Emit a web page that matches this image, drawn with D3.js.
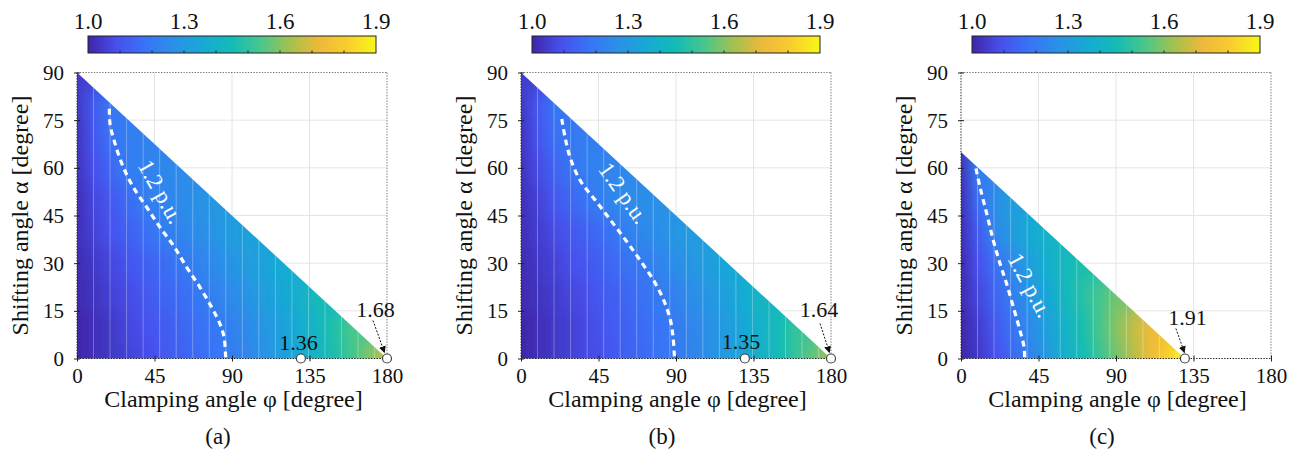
<!DOCTYPE html>
<html>
<head>
<meta charset="utf-8">
<script src="https://cdn.jsdelivr.net/npm/d3@7"></script>
<style>
  body { margin: 0; background: #fff; }
  svg, svg text { font-family: "Liberation Serif", "Times New Roman", serif; }
</style>
</head>
<body>
<svg id="chart" width="1299" height="453"></svg>
<script>
// colour bar
var cbTicks = [1.0, 1.3, 1.6, 1.9];
var cbMinor = [1.1, 1.2, 1.3, 1.4, 1.5, 1.6, 1.7, 1.8];
var parulaColors = ['#3e26a8', '#4750ee', '#3874f6', '#2a91e6', '#16aad4', '#12bcb6',
                    '#48c78b', '#a3c14f', '#ecb93a', '#f9cd2e', '#f6f815'];

// axes
var xTicks = [0, 45, 90, 135, 180];
var yTicks = [0, 15, 30, 45, 60, 75, 90];

// sampled peak-voltage field, rows of alpha, columns of phi (10 deg steps)
var phiCols = [0, 10, 20, 30, 40, 50, 60, 70, 80, 90, 100, 110, 120, 130, 140, 150, 160, 170, 180];
var alphaRows = [0, 10, 20, 30, 40, 50, 60, 70, 80, 90];
var alphaRowsC = [0, 10, 20, 30, 40, 50, 60];

var gridA = [
  [1.00, 1.02, 1.04, 1.06, 1.08, 1.11, 1.13, 1.16, 1.18, 1.21, 1.24, 1.28, 1.32, 1.36, 1.41, 1.47, 1.53, 1.60, 1.68],
  [1.00, 1.02, 1.04, 1.07, 1.09, 1.12, 1.14, 1.17, 1.19, 1.22, 1.25, 1.29, 1.33, 1.37, 1.42, 1.48, 1.54],
  [1.01, 1.03, 1.06, 1.08, 1.11, 1.14, 1.16, 1.19, 1.22, 1.25, 1.28, 1.32, 1.35, 1.39, 1.44],
  [1.01, 1.04, 1.07, 1.10, 1.13, 1.16, 1.19, 1.22, 1.25, 1.28, 1.31, 1.34, 1.37],
  [1.02, 1.06, 1.10, 1.13, 1.17, 1.21, 1.23, 1.26, 1.28, 1.31, 1.33],
  [1.02, 1.07, 1.11, 1.16, 1.21, 1.23, 1.25, 1.27, 1.29],
  [1.03, 1.09, 1.15, 1.21, 1.22, 1.24, 1.25],
  [1.03, 1.11, 1.18, 1.21, 1.22],
  [1.04, 1.12, 1.20],
  [1.05]
];
var gridB = [
  [1.00, 1.02, 1.04, 1.06, 1.08, 1.10, 1.13, 1.15, 1.18, 1.20, 1.23, 1.27, 1.31, 1.35, 1.40, 1.45, 1.51, 1.57, 1.64],
  [1.00, 1.02, 1.04, 1.06, 1.08, 1.11, 1.13, 1.16, 1.18, 1.20, 1.24, 1.27, 1.31, 1.35, 1.40, 1.45, 1.51],
  [1.01, 1.03, 1.05, 1.07, 1.09, 1.12, 1.14, 1.17, 1.20, 1.22, 1.26, 1.29, 1.33, 1.37, 1.42],
  [1.01, 1.04, 1.06, 1.09, 1.11, 1.14, 1.17, 1.20, 1.23, 1.26, 1.29, 1.32, 1.35],
  [1.02, 1.05, 1.08, 1.11, 1.14, 1.17, 1.21, 1.24, 1.26, 1.29, 1.31],
  [1.02, 1.06, 1.11, 1.15, 1.19, 1.23, 1.25, 1.26, 1.27],
  [1.03, 1.08, 1.14, 1.19, 1.22, 1.23, 1.24],
  [1.03, 1.10, 1.17, 1.20, 1.21],
  [1.04, 1.11, 1.19],
  [1.05]
];
var gridC = [
  [1.00, 1.04, 1.09, 1.15, 1.22, 1.30, 1.38, 1.45, 1.51, 1.58, 1.65, 1.73, 1.82, 1.91],
  [1.00, 1.05, 1.11, 1.18, 1.25, 1.32, 1.40, 1.46, 1.53, 1.60, 1.67, 1.73],
  [1.01, 1.07, 1.14, 1.21, 1.28, 1.35, 1.42, 1.48, 1.53, 1.58],
  [1.01, 1.09, 1.17, 1.25, 1.32, 1.38, 1.43, 1.47],
  [1.02, 1.12, 1.24, 1.31, 1.36, 1.40],
  [1.02, 1.17, 1.26, 1.32],
  [1.03, 1.22]
];

// feasible region corners [phi, alpha]
var limitA = [[0, 0], [0, 90], [180, 0]];
var limitC = [[0, 0], [0, 65], [130, 0]];

// 1.2 p.u. contour [phi, alpha]
var contourA = [[18.8, 78.6], [19.2, 73.8], [22.1, 67.6], [26.9, 60.2], [32.7, 53.9], [40.5, 47.6], [48.2, 41.3],
                [55.9, 35.6], [63.7, 28.7], [71.4, 22.4], [78.2, 16.1], [83.0, 10.9], [85.4, 6.7], [86.3, 0.4]];
var contourB = [[23.7, 75.4], [25.6, 69.6], [28.5, 63.3], [34.4, 56.0], [43.3, 49.7], [52.2, 43.4], [61.0, 37.1],
                [69.3, 30.8], [77.1, 24.5], [82.9, 18.3], [86.8, 12.0], [88.3, 6.7], [89.1, 0.4]];
var contourC = [[8.7, 59.8], [11.0, 54.0], [14.9, 45.7], [18.7, 37.3], [22.6, 30.0], [26.4, 23.7], [30.3, 16.4],
                [34.1, 9.1], [36.5, 3.9], [37.0, 0.2]];

// marked points
var pointsA = [{phi: 130, alpha: 0, label: '1.36'}, {phi: 180, alpha: 0, label: '1.68'}];
var pointsB = [{phi: 130, alpha: 0, label: '1.35'}, {phi: 180, alpha: 0, label: '1.64'}];
var pointsC = [{phi: 130, alpha: 0, label: '1.91'}];

var panels = [
  {id: 'a', left: 77, grid: gridA, rows: alphaRows, phiMax: 180, limit: limitA, contour: contourA, points: pointsA,
   cLabel: [48.5, 52.5, 61], notes: [{dx: -2.5, dy: -8.5}, {dx: -11.5, dy: -41.5, arrow: [-14, -38, -2.5, -6]}]},
  {id: 'b', left: 521, grid: gridB, rows: alphaRows, phiMax: 180, limit: limitA, contour: contourB, points: pointsB,
   cLabel: [59.5, 52, 55], notes: [{dx: -4, dy: -9.5}, {dx: -12, dy: -42, arrow: [-11, -35, -1.5, -6]}]},
  {id: 'c', left: 961, grid: gridC, rows: alphaRowsC, phiMax: 130, limit: limitC, contour: contourC, points: pointsC,
   cLabel: [40, 23, 62], notes: [{dx: 2.5, dy: -34, arrow: [-9, -30, -0.5, -6]}]}
];

var svg = d3.select('#chart');
var defs = svg.append('defs');
var plotTop = 72.5, plotBottom = 358.5, plotWidth = 310;

var color = d3.scaleLinear()
  .domain(parulaColors.map(function(c, i) { return 1.0 + 0.9 * i / (parulaColors.length - 1); }))
  .range(parulaColors)
  .clamp(true);

defs.append('filter').attr('id', 'soft')
  .attr('x', '-5%').attr('y', '-10%').attr('width', '110%').attr('height', '120%')
  .append('feGaussianBlur').attr('stdDeviation', '1.5 9');

defs.append('marker').attr('id', 'arrowHead')
  .attr('viewBox', '0 0 10 10').attr('refX', 9).attr('refY', 5)
  .attr('markerWidth', 7).attr('markerHeight', 7).attr('markerUnits', 'userSpaceOnUse')
  .attr('orient', 'auto')
  .append('path').attr('d', 'M0,0L10,5L0,10Z').attr('fill', '#111');

var cbGrad = defs.append('linearGradient').attr('id', 'cbGrad');
parulaColors.forEach(function(c, i) {
  cbGrad.append('stop').attr('offset', i / (parulaColors.length - 1)).attr('stop-color', c);
});

panels.forEach(drawPanel);

function drawPanel(p) {
  var x = d3.scaleLinear().domain([0, 180]).range([p.left, p.left + plotWidth]);
  var y = d3.scaleLinear().domain([0, 90]).range([plotBottom, plotTop]);
  var g = svg.append('g');

  // grid
  g.append('g').selectAll('line').data(xTicks.slice(1, -1)).join('line')
    .attr('x1', function(d) { return x(d); }).attr('x2', function(d) { return x(d); })
    .attr('y1', plotTop).attr('y2', plotBottom)
    .attr('stroke', '#e4e4e4').attr('stroke-width', 1);
  g.append('g').selectAll('line').data(yTicks.slice(1, -1)).join('line')
    .attr('y1', function(d) { return y(d); }).attr('y2', function(d) { return y(d); })
    .attr('x1', x(0)).attr('x2', x(180))
    .attr('stroke', '#e4e4e4').attr('stroke-width', 1);

  // heat map
  defs.append('clipPath').attr('id', 'clip' + p.id)
    .append('polygon')
    .attr('points', p.limit.map(function(d) { return x(d[0]) + ',' + y(d[1]); }).join(' '));

  p.rows.forEach(function(a, i) {
    var grad = defs.append('linearGradient').attr('id', 'row' + p.id + i)
      .attr('gradientUnits', 'userSpaceOnUse')
      .attr('x1', x(0)).attr('x2', x(p.phiMax)).attr('y1', 0).attr('y2', 0);
    p.grid[i].forEach(function(v, j) {
      grad.append('stop').attr('offset', phiCols[j] / p.phiMax).attr('stop-color', color(v));
    });
  });

  var last = p.rows.length - 1;
  function bandTop(i) { return i === last ? p.rows[i] + 15 : (p.rows[i] + p.rows[i + 1]) / 2; }
  function bandBottom(i) { return i === 0 ? p.rows[i] - 15 : (p.rows[i] + p.rows[i - 1]) / 2; }

  var heat = g.append('g').attr('clip-path', 'url(#clip' + p.id + ')');
  heat.append('g').attr('filter', 'url(#soft)')
    .selectAll('rect').data(p.rows).join('rect')
    .attr('x', x(-10)).attr('width', x(p.phiMax + 10) - x(-10))
    .attr('y', function(d, i) { return y(bandTop(i)) - 0.5; })
    .attr('height', function(d, i) { return y(bandBottom(i)) - y(bandTop(i)) + 1; })
    .attr('fill', function(d, i) { return 'url(#row' + p.id + i + ')'; });

  heat.append('g').selectAll('line').data(d3.range(9.6, p.phiMax, 9.6)).join('line')
    .attr('x1', function(d) { return x(d); }).attr('x2', function(d) { return x(d); })
    .attr('y1', plotTop).attr('y2', plotBottom)
    .attr('stroke', '#fff').attr('stroke-opacity', 0.3).attr('stroke-width', 1);

  // box
  var dotted = '1.4 1.4';
  g.append('line').attr('x1', x(0)).attr('x2', x(180)).attr('y1', plotTop).attr('y2', plotTop)
    .attr('stroke', '#777').attr('stroke-dasharray', dotted);
  g.append('line').attr('x1', x(180)).attr('x2', x(180)).attr('y1', plotTop).attr('y2', plotBottom)
    .attr('stroke', '#777').attr('stroke-dasharray', dotted);
  g.append('line').attr('x1', x(0)).attr('x2', x(180)).attr('y1', plotBottom).attr('y2', plotBottom)
    .attr('stroke', '#222').attr('stroke-dasharray', dotted);
  g.append('line').attr('x1', x(0)).attr('x2', x(0)).attr('y1', plotTop).attr('y2', plotBottom)
    .attr('stroke', '#222').attr('stroke-dasharray', dotted);

  // axes
  var xAxis = g.append('g').attr('transform', 'translate(0,' + plotBottom + ')')
    .call(d3.axisBottom(x).tickValues(xTicks).tickSize(3).tickFormat(d3.format('d')));
  xAxis.attr('font-family', null).attr('font-size', null);
  xAxis.select('.domain').remove();
  xAxis.selectAll('.tick line').attr('y1', -3).attr('y2', 3).attr('stroke', '#222');
  xAxis.selectAll('.tick text').attr('y', 24.5).attr('dy', null)
    .attr('font-size', 21).attr('fill', '#111');

  var yAxis = g.append('g').attr('transform', 'translate(' + x(0) + ',0)')
    .call(d3.axisLeft(y).tickValues(yTicks).tickSize(3).tickFormat(d3.format('d')));
  yAxis.attr('font-family', null).attr('font-size', null);
  yAxis.select('.domain').remove();
  yAxis.selectAll('.tick line').attr('x1', -3).attr('x2', 3).attr('stroke', '#222');
  yAxis.selectAll('.tick text').attr('x', -13).attr('dy', '0.34em')
    .attr('font-size', 21).attr('fill', '#111');

  // contour
  var line = d3.line().x(function(d) { return x(d[0]); }).y(function(d) { return y(d[1]); })
    .curve(d3.curveCatmullRom);
  g.append('path').attr('d', line(p.contour))
    .attr('fill', 'none').attr('stroke', '#fff').attr('stroke-width', 3.2)
    .attr('stroke-dasharray', '6 4.5');
  g.append('text')
    .attr('transform', 'translate(' + x(p.cLabel[0]) + ',' + y(p.cLabel[1]) + ') rotate(' + p.cLabel[2] + ')')
    .attr('text-anchor', 'middle').attr('dominant-baseline', 'central')
    .attr('font-size', 23).attr('fill', '#fff')
    .text('1.2 p.u.');

  // marked points
  p.points.forEach(function(pt, i) {
    var cx = x(pt.phi), cy = y(pt.alpha), n = p.notes[i];
    if (n.arrow) {
      g.append('line')
        .attr('x1', cx + n.arrow[0]).attr('y1', cy + n.arrow[1])
        .attr('x2', cx + n.arrow[2]).attr('y2', cy + n.arrow[3])
        .attr('stroke', '#111').attr('stroke-width', 1).attr('stroke-dasharray', '2 1.5')
        .attr('marker-end', 'url(#arrowHead)');
    }
    g.append('circle').attr('cx', cx).attr('cy', cy).attr('r', 4.5)
      .attr('fill', '#fff').attr('stroke', '#444').attr('stroke-width', 1.2);
    g.append('text').attr('x', cx + n.dx).attr('y', cy + n.dy)
      .attr('text-anchor', 'middle').attr('font-size', 22).attr('fill', '#111')
      .text(pt.label);
  });

  // titles
  g.append('text')
    .attr('transform', 'translate(' + (x(0) - 49.5) + ',' + ((plotTop + plotBottom) / 2) + ') rotate(-90)')
    .attr('text-anchor', 'middle').attr('font-size', 24).attr('fill', '#111')
    .text('Shifting angle \u03b1 [degree]');
  g.append('text').attr('x', (x(0) + x(180)) / 2 + 1.5).attr('y', 407)
    .attr('text-anchor', 'middle').attr('font-size', 24).attr('fill', '#111')
    .text('Clamping angle \u03c6 [degree]');
  g.append('text').attr('x', (x(0) + x(180)) / 2 - 14).attr('y', 444)
    .attr('text-anchor', 'middle').attr('font-size', 23).attr('fill', '#111')
    .text('(' + p.id + ')');

  // colour bar
  var cb = d3.scaleLinear().domain([1.0, 1.9]).range([x(0) + 11, x(180) - 11]);
  g.append('rect').attr('x', cb(1.0)).attr('y', 36).attr('width', cb(1.9) - cb(1.0)).attr('height', 17)
    .attr('fill', 'url(#cbGrad)').attr('stroke', '#222').attr('stroke-width', 1);
  g.append('g').selectAll('line').data(cbMinor).join('line')
    .attr('x1', function(d) { return cb(d); }).attr('x2', function(d) { return cb(d); })
    .attr('y1', 53).attr('y2', 50.5).attr('stroke', '#222');
  g.append('g').selectAll('text').data(cbTicks).join('text')
    .attr('x', function(d) { return cb(d); }).attr('y', 29)
    .attr('text-anchor', 'middle').attr('font-size', 23).attr('fill', '#111')
    .text(function(d) { return d3.format('.1f')(d); });
}
</script>
</body>
</html>
